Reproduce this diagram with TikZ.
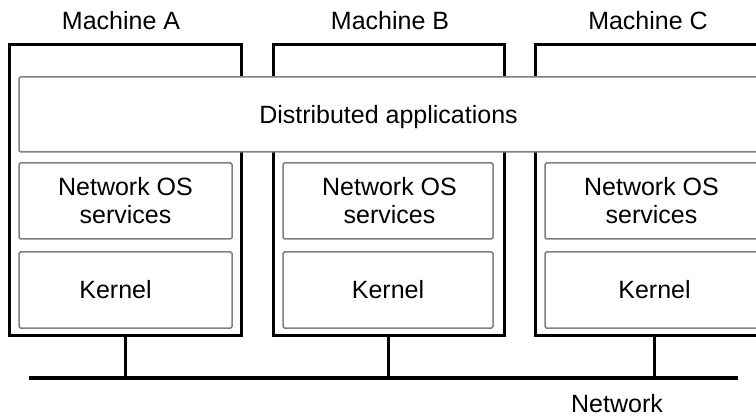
\documentclass[tikz,border=0pt]{standalone}
\usepackage{fontspec}
\setmainfont{Liberation Sans}
\usetikzlibrary{positioning, calc}
\tikzset{
    machine/.style = {rectangle, draw, line width=3pt, minimum height=290pt, inner sep=0pt},
    layer/.style = {rectangle, draw=black!50, line width=1.5pt, rounded corners=1.5pt,
                    fill=white, align=center, inner sep=0pt, minimum height=76pt},
}
\begin{document}
\begin{tikzpicture}[x=1pt, y=-1pt, font=\fontsize{25}{28}\selectfont]
    \useasboundingbox (0,0) rectangle (756,417);
    \node[machine, minimum width=232pt] (machA) at (125,190) {};
    \node[machine, minimum width=231pt] (machB) at (388.5,190) {};
    \node[machine, minimum width=238pt] (machC) at (654,190) {};
    \node (labA) at (121,21) {Machine A};
    \node (labB) at (390,21) {Machine B};
    \node (labC) at (648,21) {Machine C};
    \node[layer, minimum width=739pt, minimum height=75pt, text depth=0pt] (apps) at (388.5,114.5) {Distributed applications};
    \node[layer, minimum width=213pt] (nosA) at (125.5,201) {Network OS\\services};
    \node[layer, minimum width=210pt] (nosB) at (388,201) {\hspace*{3pt}Network OS\\\hspace*{3pt}services};
    \node[layer, minimum width=213pt] (nosC) at (651.5,201) {Network OS\\services};
    \node[layer, minimum width=213pt] (kerA) at (125.5,290) {\hspace*{-20pt}Kernel};
    \node[layer, minimum width=210pt] (kerB) at (388,290) {Kernel};
    \node[layer, minimum width=213pt] (kerC) at (651.5,290) {\hspace*{6pt}Kernel};
    % network bus
    \coordinate (netL) at (29,378);
    \coordinate (netR) at (738,378);
    \draw[line width=3pt] (machA.south) -- (machA.south |- netL);
    \draw[line width=3pt] (machB.south) -- (machB.south |- netL);
    \draw[line width=3pt] (machC.south) -- (machC.south |- netL);
    \draw[line width=4pt] (netL) -- (netR);
    \node[inner sep=0pt] (net) at (617,403.5) {Network};
\end{tikzpicture}
\end{document}
